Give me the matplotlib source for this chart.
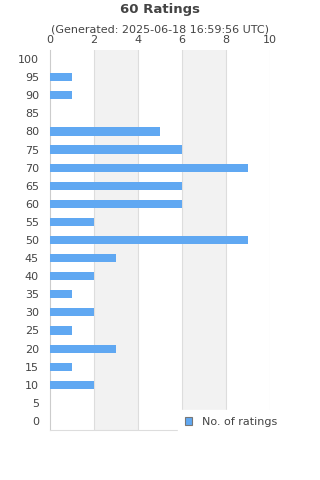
import matplotlib
matplotlib.use("Agg")
import matplotlib.pyplot as plt
from matplotlib.patches import Patch

categories = [0, 5, 10, 15, 20, 25, 30, 35, 40, 45, 50, 55, 60, 65, 70, 75, 80, 85, 90, 95, 100]
counts = [0, 0, 2, 1, 3, 1, 2, 1, 2, 3, 9, 2, 6, 6, 9, 6, 5, 0, 1, 1, 0]
x_ticks = [0, 2, 4, 6, 8, 10]
title = "60 Ratings"
subtitle = "(Generated: 2025-06-18 16:59:56 UTC)"
legend_label = "No. of ratings"

bar_color = "#60a8f2"
text_color = "#444444"

fig = plt.figure(figsize=(3.2, 4.8), dpi=100)
ax = fig.add_axes([50/320, 1-430/480, 220/320, 380/480])

pos = list(range(len(categories)))
ax.barh(pos, counts, height=0.45, color=bar_color, zorder=3)

ax.set_xlim(0, 10)
ax.set_ylim(-0.5, len(categories) - 0.5)
for a, b in [(2, 4), (6, 8)]:
    ax.axvspan(a, b, color="#f2f2f2", zorder=0, lw=0)
for x in x_ticks[1:]:
    ax.axvline(x, color="#dddddd", lw=0.8, zorder=1)

ax.xaxis.tick_top()
ax.set_xticks(x_ticks)
ax.set_xticklabels([str(v) for v in x_ticks])
ax.set_yticks(pos)
ax.set_yticklabels([str(c) for c in categories])
ax.tick_params(axis="both", length=0, labelsize=8, colors=text_color)
ax.tick_params(axis="x", pad=3.5)
ax.tick_params(axis="y", pad=8)

for side in ["top", "right"]:
    ax.spines[side].set_visible(False)
ax.spines["left"].set_color("#cccccc")
ax.spines["bottom"].set_color("#dddddd")
ax.spines["left"].set_linewidth(0.8)
ax.spines["bottom"].set_linewidth(0.8)

fig.text(0.5, 1-10/480, title, ha="center", va="center", fontsize=9.5,
         fontweight="bold", color=text_color)
fig.text(0.5, 1-29/480, subtitle, ha="center", va="center", fontsize=8,
         color=text_color)

handle = Patch(facecolor=bar_color, edgecolor="#777777", linewidth=0.8)
leg = fig.legend([handle], [legend_label], loc="upper left",
                 bbox_to_anchor=(178/320, 1-410/480), frameon=True,
                 fontsize=8, handlelength=0.7, handleheight=0.7,
                 handletextpad=0.9, borderpad=0.6, borderaxespad=0,
                 labelcolor=text_color, fancybox=False)
leg.get_frame().set_facecolor("white")
leg.get_frame().set_edgecolor("white")
leg.get_frame().set_alpha(1)

fig.savefig("out.png", dpi=100)
